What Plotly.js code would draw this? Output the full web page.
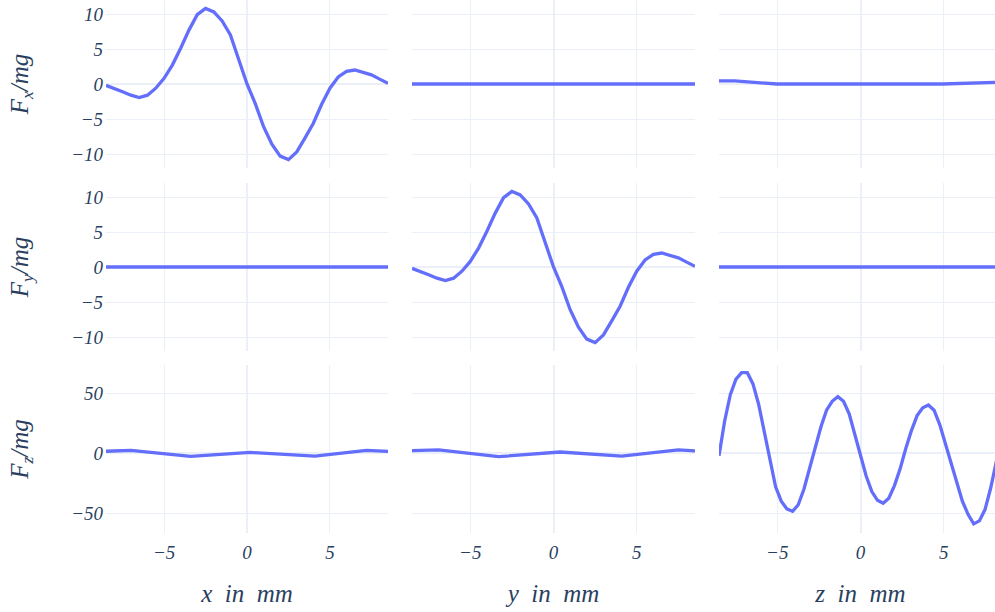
<!DOCTYPE html>
<html>
<head>
<meta charset="utf-8">
<script src="https://cdn.plot.ly/plotly-3.0.1.min.js"></script>
<style>
html,body{margin:0;padding:0;overflow:hidden;background:#fff}
#chart{width:1002px;height:612px}
</style>
</head>
<body>
<div id="chart"></div>
<script>
// ---- data ----
const posFine = [-8.5,-8,-7.5,-7,-6.5,-6,-5.5,-5,-4.5,-4,-3.5,-3,-2.5,-2,-1.5,-1,-0.5,0,
                 0.5,1,1.5,2,2.5,3,3.5,4,4.5,5,5.5,6,6.5,7,7.5,8,8.5];
const fxVsX = [-0.2,-0.6,-1.1,-1.6,-1.95,-1.6,-0.6,0.8,2.7,5.1,7.7,9.9,10.8,10.3,9.0,7.0,3.4,0,
               -2.8,-6.1,-8.6,-10.3,-10.8,-9.7,-7.7,-5.6,-2.9,-0.6,1.0,1.8,2.0,1.7,1.3,0.7,0.1];
const fyVsY = [-0.2,-0.6,-1.1,-1.6,-1.95,-1.6,-0.6,0.8,2.7,5.1,7.7,9.9,10.8,10.3,9.0,7.0,3.4,0,
               -2.8,-6.1,-8.6,-10.3,-10.8,-9.7,-7.7,-5.6,-2.9,-0.6,1.0,1.8,2.0,1.7,1.3,0.7,0.1];

const zFine = [-8.5,-8.16,-7.82,-7.48,-7.14,-6.8,-6.46,-6.12,-5.78,-5.44,-5.1,-4.76,-4.42,-4.08,
               -3.74,-3.4,-3.06,-2.72,-2.38,-2.04,-1.7,-1.36,-1.02,-0.68,-0.34,0,0.34,0.68,1.02,
               1.36,1.7,2.04,2.38,2.72,3.06,3.4,3.74,4.08,4.42,4.76,5.1,5.44,5.78,6.12,6.46,6.8,
               7.14,7.48,7.82,8.16,8.5];
const fzVsZ = [-2,27,49,62,67.4,67.4,58,41,18,-6,-28,-40,-46.5,-48.5,-43,-30,-13,6,22,36,43.5,
               47.3,43.5,33,16,-1.5,-19,-32,-39.3,-41.8,-37.5,-27,-13,4,19,31.5,38,40.4,36,24,
               8,-7,-24.5,-40,-51,-59,-56.5,-47,-29,-6.4,15];

const yFx = [-8.5,8.5];
const fxVsY = [0,0];
const zFx = [-8.5,-7.56,-5.04,4.93,8.14,8.5];
const fxVsZ = [0.45,0.45,0,0,0.25,0.3];

const xFy = [-8.5,8.5];
const fyVsX = [0,0];
const zFy = [-8.5,8.5];
const fyVsZ = [0,0];

const xFz = [-8.5,-7.0,-3.4,0.2,4.1,7.2,8.5];
const fzVsX = [1.7,2.5,-2.5,0.7,-2.3,2.5,1.6];
const yFz = [-8.5,-6.9,-3.3,0.4,4.1,7.5,8.5];
const fzVsY = [2.2,2.8,-2.8,1.1,-2.3,2.8,2.0];

const xTitles = ['x\u00a0\u00a0in\u00a0\u00a0mm','y\u00a0\u00a0in\u00a0\u00a0mm','z\u00a0\u00a0in\u00a0\u00a0mm'];
const yTitles = ['F<sub>x</sub>/mg','F<sub>y</sub>/mg','F<sub>z</sub>/mg'];

// ---- traces: rows = Fx, Fy, Fz ; cols = x, y, z ----
const grid = [
  [[posFine,fxVsX],[yFx,fxVsY],[zFx,fxVsZ]],
  [[xFy,fyVsX],[posFine,fyVsY],[zFy,fyVsZ]],
  [[xFz,fzVsX],[yFz,fzVsY],[zFine,fzVsZ]]
];

const W = 1002, H = 612;
const ml = 106, mt = 0, mb = 79, mr = 0;
const pw = W - ml - mr, ph = H - mt - mb;
const colPx = [[0,282],[306,589],[613,896]];
const rowPx = [[0,168],[183,351],[365,533]]; // from top
const yRanges = [[-12,12],[-12,12],[-66.6,73.8]];
const yDticks = [5,5,50];

const serif = 'Liberation Serif';
const fontColor = '#2a3f5f';

const data = [];
const layout = {
  width: W, height: H,
  margin: {l: ml, r: mr, t: mt, b: mb, pad: 0},
  paper_bgcolor: '#fff', plot_bgcolor: '#fff',
  showlegend: false,
  font: {family: serif, color: fontColor, size: 19, style: 'italic'}
};

for (let r = 0; r < 3; r++) {
  for (let c = 0; c < 3; c++) {
    const n = r*3 + c + 1;
    const sfx = n === 1 ? '' : String(n);
    const [xs, ys] = grid[r][c];
    data.push({
      type: 'scatter', mode: 'lines', x: xs, y: ys,
      xaxis: 'x' + sfx, yaxis: 'y' + sfx,
      line: {color: '#636efa', width: 3.3},
      hoverinfo: 'x+y'
    });
    const common = {
      showgrid: true, gridcolor: '#EBF0F8', gridwidth: 1,
      zeroline: true, zerolinecolor: '#EBF0F8', zerolinewidth: 2,
      showline: false, ticks: '',
      tickfont: {family: serif, size: 19, color: fontColor, style: 'italic'}
    };
    const xa = Object.assign({}, common, {
      domain: [colPx[c][0]/pw, colPx[c][1]/pw],
      anchor: 'y' + sfx,
      range: [-8.5, 8.5], dtick: 5, tick0: 0,
      showticklabels: r === 2,
      ticklabelstandoff: 6
    });
    if (r === 2) xa.title = {text: xTitles[c], standoff: 22,
      font: {family: serif, size: 25, color: fontColor, style: 'italic'}};
    layout['xaxis' + sfx] = xa;
    const ya = Object.assign({}, common, {
      domain: [(ph - rowPx[r][1])/ph, (ph - rowPx[r][0])/ph],
      anchor: 'x' + sfx,
      range: yRanges[r], dtick: yDticks[r], tick0: 0,
      showticklabels: c === 0,
      ticklabelstandoff: 2
    });
    if (c === 0) ya.title = {text: yTitles[r], standoff: 35,
      font: {family: serif, size: 25, color: fontColor, style: 'italic'}};
    layout['yaxis' + sfx] = ya;
  }
}

Plotly.newPlot('chart', data, layout, {displayModeBar: false, staticPlot: true});
</script>
</body>
</html>
